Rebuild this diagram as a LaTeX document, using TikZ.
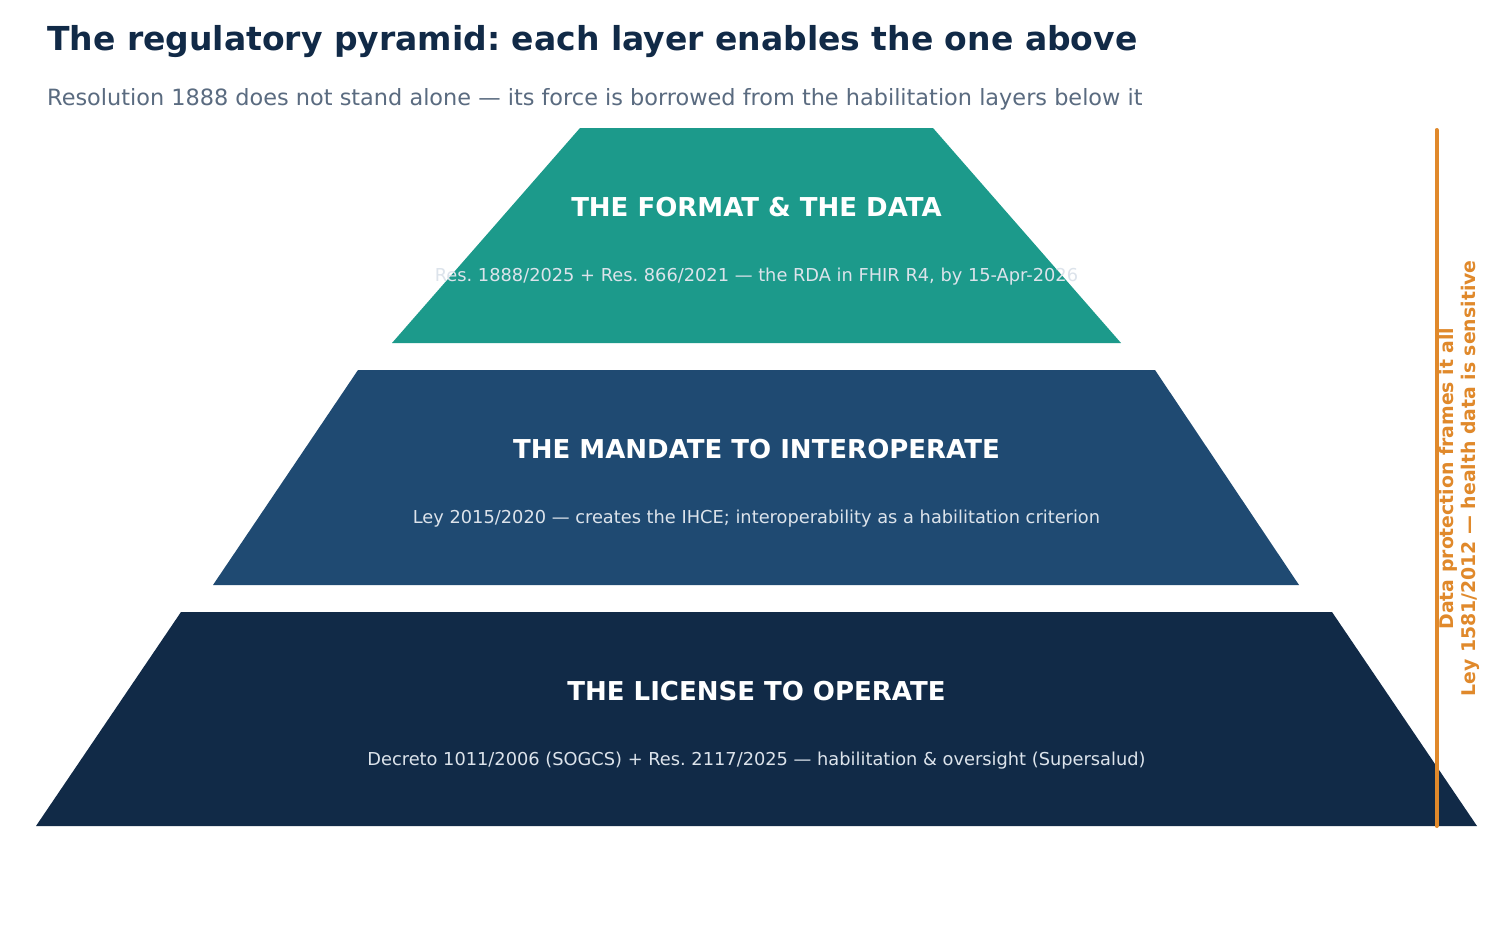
\documentclass[tikz,border=0pt]{standalone}
\usepackage{fontspec}
\setmainfont{DejaVu Sans}
\frenchspacing
\definecolor{navy}{HTML}{112A47}
\definecolor{teal}{HTML}{1C9A8B}
\definecolor{midblue}{HTML}{1F4A72}
\definecolor{subgray}{HTML}{5A6B80}
\definecolor{lighttxt}{HTML}{DCE3EB}
\definecolor{orng}{HTML}{E0892B}
\tikzset{
  layerhead/.style={anchor=base, text=white, font=\bfseries\fontsize{26}{30}\selectfont, inner sep=0},
  layersub/.style={anchor=base, text=lighttxt, font=\fontsize{17.8}{21}\selectfont, inner sep=0},
}
\begin{document}
\begin{tikzpicture}[x=1pt,y=-1pt]
\useasboundingbox (0,0) rectangle (1512,934);
\fill[white] (0,0) rectangle (1512,934);
% title
\node[anchor=base west, inner sep=0, text=navy, font=\bfseries\fontsize{33}{40}\selectfont] (title) at (47,51) {The regulatory pyramid: each layer enables the one above};
\node[anchor=base west, inner sep=0, text=subgray, font=\fontsize{22.4}{27}\selectfont] (subtitle) at (47,105) {Resolution 1888 does not stand alone — its force is borrowed from the habilitation layers below it};
% layers
\fill[teal] (580,128) -- (933,128) -- (1121,343) -- (392,343) -- cycle;
\fill[midblue] (358,370) -- (1155,370) -- (1299,585) -- (213,585) -- cycle;
\fill[navy] (181,612) -- (1332,612) -- (1477,826) -- (36,826) -- cycle;
\node[layerhead] (h1) at (756.5,216) {THE FORMAT \& THE DATA};
\node[layersub] (s1) at (756.5,281) {Res. 1888/2025 + Res. 866/2021 — the RDA in FHIR R4, by 15-Apr-2026};
\node[layerhead] (h2) at (756.5,458) {THE MANDATE TO INTEROPERATE};
\node[layersub] (s2) at (756.5,523) {Ley 2015/2020 — creates the IHCE; interoperability as a habilitation criterion};
\node[layerhead] (h3) at (756.5,700) {THE LICENSE TO OPERATE};
\node[layersub] (s3) at (756.5,765) {Decreto 1011/2006 (SOGCS) + Res. 2117/2025 — habilitation \& oversight (Supersalud)};
% side bracket
\coordinate (btop) at (1436.5,130);
\coordinate (bbot) at (1436.5,826);
\draw[orng, line width=4, line cap=round] (btop) -- (bbot);
\node[rotate=90, align=center, text=orng, inner sep=0, font=\bfseries\fontsize{18.85}{22}\selectfont] (side) at (1459,478.5) {Data protection frames it all\\Ley 1581/2012 — health data is sensitive};
\end{tikzpicture}
\end{document}
